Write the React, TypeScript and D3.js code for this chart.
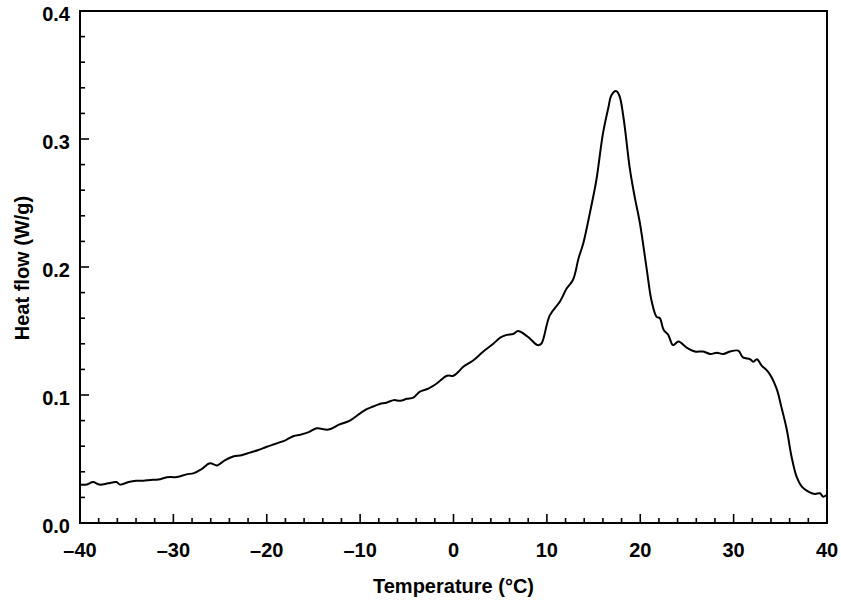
import { useEffect, useRef } from 'react'
import * as d3 from 'd3'

// DSC trace: temperature (°C) vs heat flow (W/g)
const temps = [
  -40, -39.3, -38.6, -37.9, -37.0, -36.1, -35.7, -34.8, -34.0, -33.2, -32.5, -31.6, -30.7, -29.6, -28.6,
  -27.8, -27.0, -26.1, -25.3, -24.5, -23.6, -22.7, -21.8, -20.9, -20.0, -19.0, -17.9, -17.1, -16.4, -15.5,
  -14.65, -13.4, -12.2, -11.1, -10.0, -9.3, -8.6, -7.9, -7.2, -6.4, -5.7, -5.0, -4.3, -3.6, -2.7,
  -1.8, -0.7, 0, 0.5, 1.05, 2.1, 3.2, 4.26, 5.0, 5.7, 6.4, 6.9, 7.5, 8.2, 9.0,
  9.4, 10.3, 11.4, 12.1, 12.8, 13.4, 13.9, 14.6, 15.3, 16.0, 16.6, 16.9, 17.4, 17.76, 18.2,
  18.9, 19.4, 19.97, 20.7, 21.2, 21.76, 22.1, 22.5, 23.0, 23.5, 24.1, 24.97, 25.86, 26.75, 27.5,
  28.2, 28.9, 29.6, 30.5, 31.0, 31.75, 32.1, 32.5, 33.0, 33.7, 34.6, 35.1, 35.7, 36.2, 36.75,
  37.3, 38.0, 38.7, 39.25, 39.6, 40.0,
]
const heatFlow = [
  0.030, 0.030, 0.032, 0.030, 0.031, 0.032, 0.030, 0.032, 0.033, 0.033, 0.0336, 0.034, 0.0357, 0.036, 0.038,
  0.039, 0.042, 0.0466, 0.045, 0.049, 0.052, 0.053, 0.055, 0.057, 0.0596, 0.062, 0.065, 0.068, 0.069, 0.071,
  0.074, 0.073, 0.077, 0.080, 0.0857, 0.089, 0.091, 0.093, 0.094, 0.096, 0.0955, 0.097, 0.098, 0.1026, 0.105,
  0.109, 0.115, 0.115, 0.118, 0.122, 0.127, 0.134, 0.140, 0.1448, 0.147, 0.1477, 0.150, 0.148, 0.144, 0.139,
  0.140, 0.162, 0.173, 0.183, 0.190, 0.207, 0.2185, 0.242, 0.268, 0.304, 0.325, 0.334, 0.3375, 0.334, 0.317,
  0.276, 0.255, 0.234, 0.198, 0.174, 0.161, 0.160, 0.151, 0.147, 0.139, 0.1417, 0.137, 0.134, 0.134, 0.132,
  0.133, 0.132, 0.134, 0.1346, 0.1294, 0.128, 0.126, 0.128, 0.123, 0.118, 0.105, 0.091, 0.0727, 0.052, 0.036,
  0.0284, 0.0245, 0.0227, 0.0232, 0.0205, 0.022,
]

const xTicks = [-40, -30, -20, -10, 0, 10, 20, 30, 40]
const yTicks = [0.0, 0.1, 0.2, 0.3, 0.4]

export default function App() {
  const svgRef = useRef<SVGSVGElement | null>(null)
  const width = 841
  const height = 602

  useEffect(() => {
    const el = svgRef.current
    if (!el) return
    const margin = { top: 11, right: 14, bottom: 79, left: 80 }
    const w = width - margin.left - margin.right
    const h = height - margin.top - margin.bottom

    const x = d3.scaleLinear().domain([-40, 40]).range([0, w])
    const y = d3.scaleLinear().domain([0, 0.4]).range([h, 0])

    const svg = d3.select(el)
    svg.selectAll('*').remove()
    const font = '"Liberation Sans", Arial, Helvetica, sans-serif'

    const g = svg.append('g').attr('transform', `translate(${margin.left},${margin.top})`)

    // minor + major ticks, pointing inward
    const xMinor = d3.range(-40, 40.01, 2)
    g.selectAll('.xt').data(xMinor).enter().append('line')
      .attr('x1', d => x(d)).attr('x2', d => x(d))
      .attr('y1', h).attr('y2', d => h - (Math.abs(d % 10) < 1e-6 ? 9 : 5))
      .attr('stroke', '#000').attr('stroke-width', 1.6)

    const yMinor = d3.range(0, 0.4001, 0.02)
    g.selectAll('.yt').data(yMinor).enter().append('line')
      .attr('y1', d => y(d)).attr('y2', d => y(d))
      .attr('x1', 0).attr('x2', (d, i) => (i % 5 === 0 ? 9 : 5))
      .attr('stroke', '#000').attr('stroke-width', 1.6)

    // frame
    g.append('rect').attr('x', 0).attr('y', 0).attr('width', w).attr('height', h)
      .attr('fill', 'none').attr('stroke', '#000').attr('stroke-width', 2)

    // tick labels
    g.selectAll('.xl').data(xTicks).enter().append('text')
      .attr('x', d => x(d)).attr('y', h + 34)
      .attr('text-anchor', 'middle')
      .attr('font-family', font).attr('font-weight', 'bold').attr('font-size', 20)
      .text(d => (d < 0 ? `\u2013${Math.abs(d)}` : `${d}`))

    g.selectAll('.yl').data(yTicks).enter().append('text')
      .attr('x', -10).attr('y', d => y(d) + 10)
      .attr('text-anchor', 'end')
      .attr('font-family', font).attr('font-weight', 'bold').attr('font-size', 20)
      .text(d => d.toFixed(1))

    // curve
    const pts = temps.map((t, i) => [t, heatFlow[i]] as [number, number])
    const line = d3.line<[number, number]>()
      .x(d => x(d[0]))
      .y(d => y(d[1]))
      .curve(d3.curveCatmullRom.alpha(0.5))
    g.append('path').datum(pts).attr('d', line)
      .attr('fill', 'none').attr('stroke', '#000').attr('stroke-width', 2)
      .attr('stroke-linejoin', 'round')

    // axis titles
    svg.append('text')
      .attr('x', margin.left + w / 2).attr('y', 593)
      .attr('text-anchor', 'middle')
      .attr('font-family', font).attr('font-weight', 'bold').attr('font-size', 20)
      .text('Temperature (\u00b0C)')

    svg.append('text')
      .attr('transform', `translate(29,268) rotate(-90)`)
      .attr('text-anchor', 'middle')
      .attr('font-family', font).attr('font-weight', 'bold').attr('font-size', 20)
      .text('Heat flow (W/g)')
  }, [])

  return (
    <svg
      ref={svgRef}
      width={width}
      height={height}
      style={{ display: 'block', position: 'absolute', left: 0, top: 0 }}
    />
  )
}
